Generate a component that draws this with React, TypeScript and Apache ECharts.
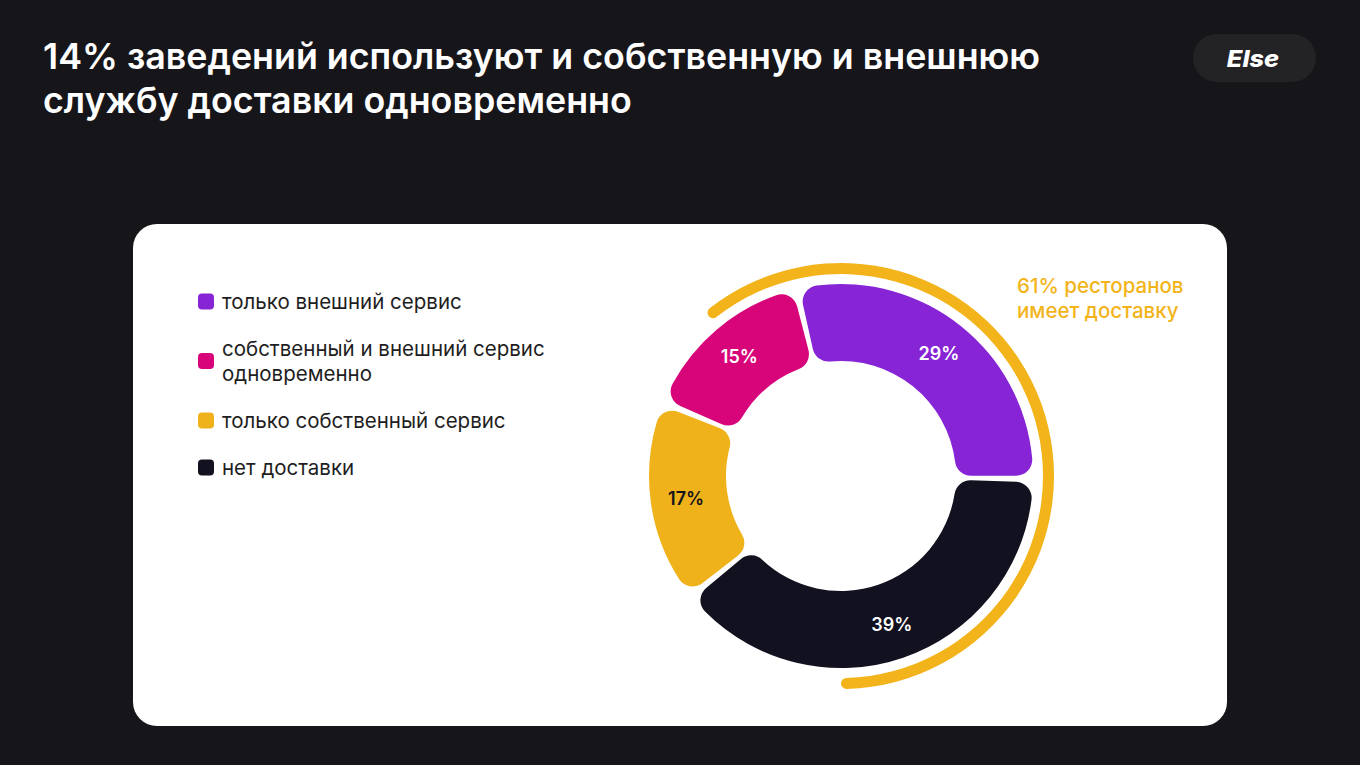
import React, { useEffect, useRef } from "react";
import * as echarts from "echarts";

const titleLines = [
  "14% заведений используют и собственную и внешнюю",
  "службу доставки одновременно",
];
const categories = [
  "только внешний сервис",
  "нет доставки",
  "только собственный сервис",
  "собственный и внешний сервис одновременно",
];
const shares = [29, 39, 17, 15];
const colors = ["#8724D6", "#12111F", "#EFB21B", "#D8047A"];
const labelColors = ["#FFFFFF", "#FFFFFF", "#15141C", "#FFFFFF"];
const legendOrder = [
  "только внешний сервис",
  "собственный и внешний сервис одновременно",
  "только собственный сервис",
  "нет доставки",
];
const legendLabels: Record<string, string> = {
  "собственный и внешний сервис одновременно": "собственный и внешний сервис\nодновременно",
};
const deliveryShare = [61, 39];
const deliveryNote = "61% ресторанов\nимеет доставку";
const logoText = "Else";

export default function App() {
  const ref = useRef<HTMLDivElement>(null);
  useEffect(() => {
    document.body.style.margin = "0";
    const chart = echarts.init(ref.current!, null, { renderer: "svg" });
    const font = "Inter, 'Noto Sans', sans-serif";
    chart.setOption({
      animation: false,
      backgroundColor: "#161519",
      graphic: [
        {
          type: "rect",
          z: 0,
          shape: { x: 133, y: 224, width: 1094, height: 502, r: 24 },
          style: { fill: "#FFFFFF" },
        },
        {
          type: "text",
          x: 43,
          y: 34,
          style: {
            text: titleLines.join("\n"),
            fill: "#FFFFFF",
            font: `600 35.8px ${font}`,
            lineHeight: 44,
          },
        },
        {
          type: "rect",
          shape: { x: 1193, y: 34, width: 123, height: 48, r: 24 },
          style: { fill: "#232326" },
        },
        {
          type: "text",
          x: 1253,
          y: 59,
          scaleX: 1.1,
          style: {
            text: logoText,
            fill: "#FFFFFF",
            font: `italic 800 23px ${font}`,
            align: "center",
            verticalAlign: "middle",
          },
        },
        {
          type: "text",
          x: 1017,
          y: 273,
          z: 10,
          style: {
            text: deliveryNote,
            fill: "#F2B41A",
            font: `500 20.5px ${font}`,
            lineHeight: 25,
          },
        },
      ],
      legend: {
        orient: "vertical",
        left: 198,
        top: 289,
        padding: 0,
        itemWidth: 16,
        itemHeight: 16,
        itemGap: 22,
        icon: "roundRect",
        data: legendOrder,
        selectedMode: false,
        formatter: (n: string) => legendLabels[n] || n,
        textStyle: {
          fontFamily: font,
          fontSize: 20.5,
          color: "#1E1E22",
          lineHeight: 25,
          padding: [0, 0, 0, 3],
        },
      },
      series: [
        {
          type: "pie",
          center: [841, 476],
          radius: [115, 192],
          startAngle: 103.5,
          clockwise: true,
          padAngle: 2,
          avoidLabelOverlap: false,
          emphasis: { disabled: true },
          itemStyle: { borderRadius: 16 },
          label: {
            show: true,
            position: "inside",
            formatter: "{c}%",
            fontFamily: font,
            fontSize: 18,
            fontWeight: 600,
          },
          labelLine: { show: false },
          data: categories.map((name, i) => ({
            name,
            value: shares[i],
            itemStyle: { color: colors[i] },
            label: { color: labelColors[i] },
          })),
        },
        {
          type: "pie",
          center: [841, 476],
          radius: [202, 213],
          startAngle: 129.6,
          clockwise: true,
          silent: true,
          emphasis: { disabled: true },
          itemStyle: { borderRadius: 6 },
          label: { show: false },
          labelLine: { show: false },
          data: [
            { name: "доставка", value: deliveryShare[0], itemStyle: { color: "#F2B41A" } },
            { name: "без доставки", value: deliveryShare[1], itemStyle: { color: "rgba(0,0,0,0)" } },
          ],
        },
      ],
    });
    return () => chart.dispose();
  }, []);
  return (
    <div
      ref={ref}
      style={{ position: "absolute", left: 0, top: 0, width: 1360, height: 765 }}
    />
  );
}
